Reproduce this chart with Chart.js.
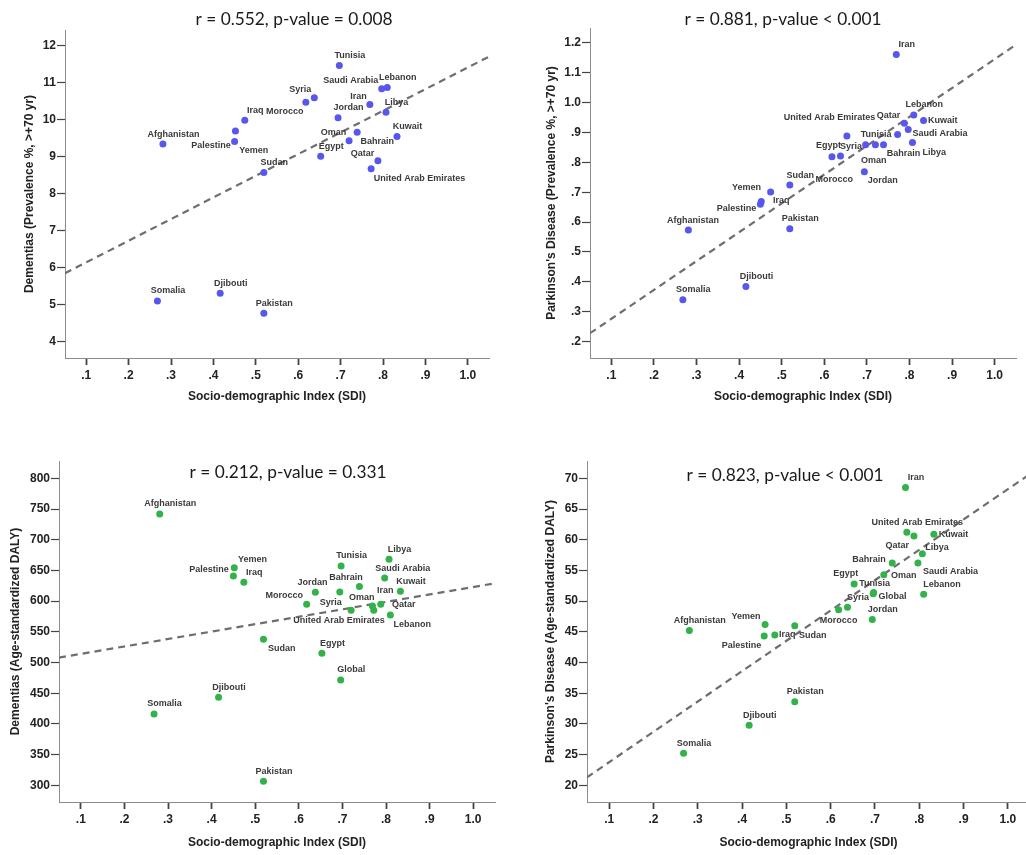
<!DOCTYPE html>
<html>
<head>
<meta charset="utf-8">
<title>SDI vs dementias and Parkinson's disease</title>
<script src="https://cdn.jsdelivr.net/npm/chart.js@4.4.1/dist/chart.umd.min.js"></script>
<style>
  html, body { margin: 0; padding: 0; background: #fff; width: 1026px; height: 855px; overflow: hidden; }
  canvas { position: absolute; }
</style>
</head>
<body>
<canvas id="c1" width="513" height="427" style="left:0;top:0"></canvas>
<canvas id="c2" width="513" height="427" style="left:513px;top:0"></canvas>
<canvas id="c3" width="513" height="428" style="left:0;top:427px"></canvas>
<canvas id="c4" width="530" height="428" style="left:513px;top:427px"></canvas>
<script>
// ---- data ----
const countries = ['Afghanistan', 'Bahrain', 'Djibouti', 'Egypt', 'Iran', 'Iraq', 'Jordan', 'Kuwait',
  'Lebanon', 'Libya', 'Morocco', 'Oman', 'Pakistan', 'Palestine', 'Qatar', 'Saudi Arabia', 'Somalia',
  'Sudan', 'Syria', 'Tunisia', 'United Arab Emirates', 'Yemen'];
const sdi = [0.281, 0.739, 0.416, 0.653, 0.769, 0.474, 0.694, 0.833, 0.810, 0.807, 0.618, 0.720,
  0.519, 0.450, 0.788, 0.797, 0.268, 0.519, 0.638, 0.697, 0.772, 0.452];
const globalSdi = 0.696;

const dementiaPrev = [9.34, 9.66, 5.31, 9.01, 10.41, 9.98, 10.05, 9.54, 10.87, 10.20, 10.47, 9.43,
  4.77, 9.41, 8.89, 10.83, 5.10, 8.57, 10.59, 11.46, 8.67, 9.69];
const parkinsonPrev = [0.574, 0.859, 0.384, 0.888, 1.161, 0.701, 0.769, 0.940, 0.959, 0.867, 0.819, 0.859,
  0.578, 0.660, 0.931, 0.910, 0.340, 0.724, 0.821, 0.859, 0.893, 0.669];
const dementiaDaly = [741.9, 623.6, 443.3, 515.0, 592.1, 630.6, 614.9, 616.0, 577.4, 668.1, 594.8, 585.0,
  306.5, 640.9, 594.8, 637.7, 416.2, 537.8, 614.3, 657.2, 585.0, 654.5];
const dementiaDalyGlobal = 471.6;
const parkinsonDaly = [45.2, 56.2, 29.8, 52.8, 68.5, 44.5, 47.0, 60.9, 51.1, 57.7, 48.6, 54.3,
  33.6, 44.3, 60.6, 56.2, 25.2, 46.0, 49.0, 51.4, 61.2, 46.2];
const parkinsonDalyGlobal = 51.2;

// fit lines, [sdi, value] at the two ends of the x axis
const fitDementiaPrev = [[0.05, 5.85], [1.05, 11.70]];
const fitParkinsonPrev = [[0.05, 0.228], [1.05, 1.194]];
const fitDementiaDaly = [[0.05, 508], [1.05, 629]];
const fitParkinsonDaly = [[0.05, 21.3], [1.05, 70.7]];

const xTicks = [0.1, 0.2, 0.3, 0.4, 0.5, 0.6, 0.7, 0.8, 0.9, 1.0];
const xTickLabels = ['.1', '.2', '.3', '.4', '.5', '.6', '.7', '.8', '.9', '1.0'];
const yTicks1 = [4, 5, 6, 7, 8, 9, 10, 11, 12];
const yTickLabels1 = ['4', '5', '6', '7', '8', '9', '10', '11', '12'];
const yTicks2 = [0.2, 0.3, 0.4, 0.5, 0.6, 0.7, 0.8, 0.9, 1.0, 1.1, 1.2];
const yTickLabels2 = ['.2', '.3', '.4', '.5', '.6', '.7', '.8', '.9', '1.0', '1.1', '1.2'];
const yTicks3 = [300, 350, 400, 450, 500, 550, 600, 650, 700, 750, 800];
const yTickLabels3 = ['300', '350', '400', '450', '500', '550', '600', '650', '700', '750', '800'];
const yTicks4 = [20, 25, 30, 35, 40, 45, 50, 55, 60, 65, 70];
const yTickLabels4 = ['20', '25', '30', '35', '40', '45', '50', '55', '60', '65', '70'];

// ---- style ----
const BLUE = '#5757ee';
const GREEN = '#33b24a';
const FONT = "'Liberation Sans', Arial, sans-serif";
Chart.defaults.font.family = FONT;

// label centre offsets (px) from each point; anything not listed uses DEF
const DEF = [10.5, -10];
const offs1 = {
  'Saudi Arabia': [-31, -8.7], 'Syria': [-14, -8.3], 'Morocco': [-21, 9.3], 'Iran': [-11.3, -8.3],
  'Palestine': [-23.7, 3.7], 'Yemen': [18.3, 19.7], 'Oman': [-15.7, -8.3], 'Bahrain': [20, 9],
  'Qatar': [-15.3, -6.7], 'United Arab Emirates': [48.3, 9.3]
};
const offs2 = {
  'Kuwait': [19.3, 0], 'Qatar': [-16, -8], 'Saudi Arabia': [31.7, 3.7], 'United Arab Emirates': [-68, -16.7],
  'Oman': [-1.7, 16], 'Bahrain': [20, 8.7], 'Libya': [21.7, 9.7], 'Jordan': [18.3, 9], 'Egypt': [-18.3, 9.7],
  'Morocco': [2.3, 23.3], 'Iraq': [10.7, 9], 'Yemen': [-14.7, -14.3], 'Palestine': [-24, 4.7],
  'Afghanistan': [4.7, -9]
};
const offs3 = {
  'Yemen': [18.3, -8], 'Palestine': [-24.3, -6.7], 'Saudi Arabia': [18, -9.3], 'Bahrain': [-13.3, -9],
  'Jordan': [-27.3, -9], 'Syria': [15.3, 9.7], 'Morocco': [-22.3, -8.7], 'Iran': [12.7, -15.3],
  'Oman': [10.7, -13], 'Qatar': [23, 0], 'United Arab Emirates': [-34.7, 9.7], 'Lebanon': [22, 9.3],
  'Sudan': [18.3, 9.3]
};
const offs4 = {
  'Qatar': [-16.7, 9.7], 'Kuwait': [19.7, 0], 'Libya': [14.7, -6.7], 'Bahrain': [-23.3, -3.7],
  'Saudi Arabia': [32.7, 8], 'Oman': [20, 0.7], 'Egypt': [-8.3, -10.3], 'Tunisia': [1, -8.7],
  'Global': [19.3, 3], 'Morocco': [0, 10.7], 'Lebanon': [18.3, -10.3], 'Yemen': [-19, -8],
  'Sudan': [18, 9.7], 'Iraq': [12.3, 0], 'Palestine': [-22.7, 9.7]
};

function tickLabel(values, labels) {
  return v => {
    const i = values.findIndex(t => Math.abs(t - v) < 1e-6);
    return i < 0 ? '' : labels[i];
  };
}

const labelPlugin = {
  id: 'pointLabels',
  afterDatasetsDraw(chart) {
    const o = chart.options.plugins.pointLabels;
    const ctx = chart.ctx;
    const meta = chart.getDatasetMeta(0);
    ctx.save();
    ctx.font = "bold 9px " + FONT;
    ctx.fillStyle = '#3a3a3a';
    ctx.textAlign = 'center';
    ctx.textBaseline = 'middle';
    meta.data.forEach((pt, i) => {
      const name = o.names[i];
      const d = o.offsets[name] || DEF;
      ctx.fillText(name, pt.x + d[0], pt.y + d[1]);
    });
    ctx.font = "17.3px Lato, 'Open Sans', sans-serif";
    ctx.fillStyle = '#1a1a1a';
    ctx.fillText(o.title, o.titleX, o.titleY);
    ctx.restore();
  }
};

function makePanel(id, p) {
  const pts = p.x.map((x, i) => ({ x: x, y: p.y[i] }));
  new Chart(document.getElementById(id), {
    type: 'scatter',
    data: {
      datasets: [
        { data: pts, backgroundColor: p.color, borderWidth: 0, pointRadius: 3.5, order: 0 },
        { data: p.fit.map(f => ({ x: f[0], y: f[1] })), showLine: true, borderColor: '#6e6e6e',
          borderWidth: 2.2, borderDash: [7, 5], pointRadius: 0, fill: false, order: 1 }
      ]
    },
    plugins: [labelPlugin],
    options: {
      responsive: false,
      animation: false,
      events: [],
      layout: { padding: { left: 0, top: p.padTop, right: p.padRight, bottom: 0 } },
      plugins: {
        legend: { display: false },
        tooltip: { enabled: false },
        pointLabels: { names: p.names, offsets: p.offsets, title: p.title, titleX: p.titleX, titleY: p.titleY }
      },
      scales: {
        x: {
          type: 'linear', min: 0.05, max: 1.05,
          afterBuildTicks: s => { s.ticks = xTicks.map(v => ({ value: v })); },
          afterFit: s => { s.height = p.xH; },
          border: { display: true, color: '#8c8c8c', width: 1 },
          grid: { drawOnChartArea: false, drawTicks: true, tickLength: 7, tickColor: '#444', tickWidth: 1.8 },
          ticks: { autoSkip: false, maxRotation: 0, padding: 3, color: '#222',
            font: { size: 12, weight: 'bold' }, callback: tickLabel(xTicks, xTickLabels) },
          title: { display: true, text: 'Socio-demographic Index (SDI)', color: '#222',
            font: { size: 12, weight: 'bold' }, padding: { top: 0, bottom: p.xTitlePad } }
        },
        y: {
          type: 'linear', min: p.yMin, max: p.yMax,
          afterBuildTicks: s => { s.ticks = p.yTicks.map(v => ({ value: v })); },
          afterFit: s => { s.width = p.yW; },
          border: { display: true, color: '#8c8c8c', width: 1 },
          grid: { drawOnChartArea: false, drawTicks: true, tickLength: 8, tickColor: '#444', tickWidth: 1.2 },
          ticks: { autoSkip: false, padding: 1, color: '#222',
            font: { size: 12, weight: 'bold' }, callback: tickLabel(p.yTicks, p.yLabels) },
          title: { display: true, text: p.yTitle, color: '#222',
            font: { size: 12, weight: 'bold' }, padding: { top: p.yTitlePad, bottom: 0 } }
        }
      }
    }
  });
}

makePanel('c1', {
  x: sdi, y: dementiaPrev, names: countries, offsets: offs1, color: BLUE, fit: fitDementiaPrev,
  yMin: 3.56, yMax: 12.42, yTicks: yTicks1, yLabels: yTickLabels1,
  yTitle: 'Dementias (Prevalence %, >+70 yr)',
  title: 'r = 0.552, p-value = 0.008', titleX: 294, titleY: 19,
  yW: 65, xH: 69, padTop: 30, padRight: 24, xTitlePad: 23, yTitlePad: 22
});

makePanel('c2', {
  x: sdi, y: parkinsonPrev, names: countries, offsets: offs2, color: BLUE, fit: fitParkinsonPrev,
  yMin: 0.145, yMax: 1.25, yTicks: yTicks2, yLabels: yTickLabels2,
  yTitle: "Parkinson's Disease (Prevalence %, >+70 yr)",
  title: 'r = 0.881, p-value < 0.001', titleX: 270, titleY: 19,
  yW: 77, xH: 69, padTop: 28, padRight: 10, xTitlePad: 23, yTitlePad: 31.5
});

makePanel('c3', {
  x: sdi.concat([globalSdi]), y: dementiaDaly.concat([dementiaDalyGlobal]),
  names: countries.concat(['Global']), offsets: offs3, color: GREEN, fit: fitDementiaDaly,
  yMin: 272.8, yMax: 828.2, yTicks: yTicks3, yLabels: yTickLabels3,
  yTitle: 'Dementias (Age-standardized DALY)',
  title: 'r = 0.212, p-value = 0.331', titleX: 288, titleY: 45,
  yW: 59, xH: 53, padTop: 34, padRight: 18, xTitlePad: 5.5, yTitlePad: 8
});

makePanel('c4', {
  x: sdi.concat([globalSdi]), y: parkinsonDaly.concat([parkinsonDalyGlobal]),
  names: countries.concat(['Global']), offsets: offs4, color: GREEN, fit: fitParkinsonDaly,
  yMin: 17.28, yMax: 72.82, yTicks: yTicks4, yLabels: yTickLabels4,
  yTitle: "Parkinson's Disease (Age-standardized DALY)",
  title: 'r = 0.823, p-value < 0.001', titleX: 272, titleY: 48,
  yW: 74, xH: 53, padTop: 34, padRight: 13, xTitlePad: 5.5, yTitlePad: 30.5
});
</script>
</body>
</html>
